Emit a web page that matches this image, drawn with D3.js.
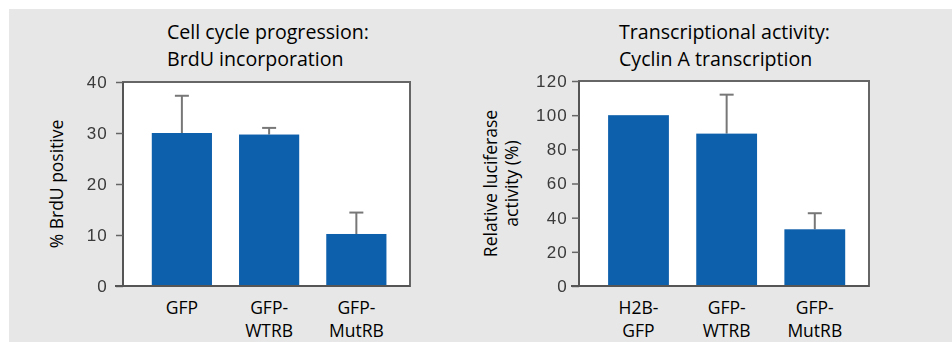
<!DOCTYPE html>
<html>
<head>
<meta charset="utf-8">
<script src="https://cdn.jsdelivr.net/npm/d3@7"></script>
<style>
  html, body { margin: 0; padding: 0; background: #ffffff; }
  svg { display: block; }
</style>
</head>
<body>
<svg id="chart" width="952" height="342"></svg>
<script>
// BrdU incorporation panel
const brduCategories = [["GFP"], ["GFP-", "WTRB"], ["GFP-", "MutRB"]];
const brduValues = [30.0, 29.7, 10.2];
const brduErrors = [7.3, 1.3, 4.2];
const brduTicks = [0, 10, 20, 30, 40];
const brduTitle = ["Cell cycle progression:", "BrdU incorporation"];
const brduAxisTitle = ["% BrdU positive"];

// Cyclin A luciferase panel
const cyclinCategories = [["H2B-", "GFP"], ["GFP-", "WTRB"], ["GFP-", "MutRB"]];
const cyclinValues = [100, 89.2, 33.2];
const cyclinErrors = [0, 22.8, 9.4];
const cyclinTicks = [0, 20, 40, 60, 80, 100, 120];
const cyclinTitle = ["Transcriptional activity:", "Cyclin A transcription"];
const cyclinAxisTitle = ["Relative luciferase", "activity (%)"];

const svg = d3.select("#chart");
const textFont = "'Open Sans', 'Noto Sans', sans-serif";
const tickFont = "'Liberation Sans', Arial, sans-serif";
const barColor = "#1161ac";

// soft edges on the plotted marks
const defs = svg.append("defs");
defs.append("filter").attr("id", "soft")
  .attr("x", "-5%").attr("y", "-5%").attr("width", "110%").attr("height", "110%")
  .append("feGaussianBlur").attr("stdDeviation", 0.6);

// grey panel behind both charts
svg.append("rect").attr("x", 9).attr("y", 9).attr("width", 943).attr("height", 333)
  .attr("fill", "#e7e7e7");

function drawPanel(cfg) {
  const { categories, values, errors, ticks, title, axisTitle, box } = cfg;
  const x = d3.scaleBand()
    .domain(d3.range(categories.length))
    .range([box.left, box.right])
    .paddingInner(0.31).paddingOuter(0.3).align(0.55);
  const y = d3.scaleLinear()
    .domain([ticks[0], ticks[ticks.length - 1]])
    .range([box.bottom, box.top]);

  const g = svg.append("g");
  const plot = g.append("g").attr("filter", "url(#soft)");

  // white plotting area with frame
  plot.append("rect")
    .attr("x", box.left).attr("y", box.top)
    .attr("width", box.right - box.left).attr("height", box.bottom - box.top)
    .attr("fill", "#ffffff").attr("stroke", "#666").attr("stroke-width", 2);

  // error bars (upper only)
  const capW = 14;
  const eb = plot.append("g").attr("stroke", "#777").attr("stroke-width", 2).attr("fill", "none");
  values.forEach((v, i) => {
    if (!errors[i]) return;
    const cx = x(i) + x.bandwidth() / 2;
    eb.append("line").attr("x1", cx).attr("x2", cx)
      .attr("y1", y(v)).attr("y2", y(v + errors[i]));
    eb.append("line").attr("x1", cx - capW / 2).attr("x2", cx + capW / 2)
      .attr("y1", y(v + errors[i])).attr("y2", y(v + errors[i]));
  });

  // bars
  plot.append("g").selectAll("rect").data(values).join("rect")
    .attr("x", (d, i) => x(i))
    .attr("width", x.bandwidth())
    .attr("y", d => y(d))
    .attr("height", d => y(0) - y(d))
    .attr("fill", barColor);

  // y axis
  const yAxis = d3.axisLeft(y).tickValues(ticks).tickSize(7).tickPadding(box.tickPad);
  const ya = plot.append("g").attr("transform", `translate(${box.left},0)`).call(yAxis);
  ya.select(".domain").attr("stroke", "#555").attr("stroke-width", 2)
    .attr("d", `M0,${box.top}V${box.bottom}`);
  ya.selectAll(".tick line").attr("stroke", "#666").attr("stroke-width", 1.5);
  ya.selectAll(".tick text")
    .attr("fill", "#3a3a3a")
    .style("font-family", tickFont).style("font-size", "17px")
    .style("letter-spacing", "1.2px");

  // bottom axis line drawn darker
  plot.append("line")
    .attr("x1", box.left - 8).attr("x2", box.right)
    .attr("y1", box.bottom).attr("y2", box.bottom)
    .attr("stroke", "#555").attr("stroke-width", 2);

  // category labels
  const cat = g.append("g").attr("fill", "#000")
    .style("font-family", textFont).style("font-size", "17.5px");
  categories.forEach((lines, i) => {
    const t = cat.append("text")
      .attr("x", x(i) + x.bandwidth() / 2)
      .attr("y", box.bottom + 28)
      .attr("text-anchor", "middle");
    lines.forEach((ln, k) => {
      t.append("tspan").attr("x", x(i) + x.bandwidth() / 2)
        .attr("dy", k === 0 ? 0 : 23).text(ln);
    });
  });

  // panel title
  const tt = g.append("text").attr("fill", "#000")
    .style("font-family", textFont).style("font-size", "19.6px")
    .attr("x", box.titleX).attr("y", 39);
  title.forEach((ln, k) => {
    tt.append("tspan").attr("x", box.titleX).attr("dy", k === 0 ? 0 : 27).text(ln);
  });

  // y axis title
  const cy = (box.top + box.bottom) / 2;
  const at = g.append("text").attr("fill", "#000")
    .style("font-family", textFont).style("font-size", "17.5px")
    .attr("text-anchor", "middle")
    .attr("transform", `translate(${box.axisTitleX},${cy}) rotate(-90)`);
  axisTitle.forEach((ln, k) => {
    at.append("tspan").attr("x", 0).attr("dy", k === 0 ? 0 : 21).text(ln);
  });
}

drawPanel({
  categories: brduCategories, values: brduValues, errors: brduErrors,
  ticks: brduTicks, title: brduTitle, axisTitle: brduAxisTitle,
  box: { left: 123, right: 410, top: 82, bottom: 286, tickPad: 8, titleX: 167, axisTitleX: 63 }
});

drawPanel({
  categories: cyclinCategories, values: cyclinValues, errors: cyclinErrors,
  ticks: cyclinTicks, title: cyclinTitle, axisTitle: cyclinAxisTitle,
  box: { left: 579, right: 869, top: 81, bottom: 286, tickPad: 4, titleX: 619, axisTitleX: 497 }
});
</script>
</body>
</html>
